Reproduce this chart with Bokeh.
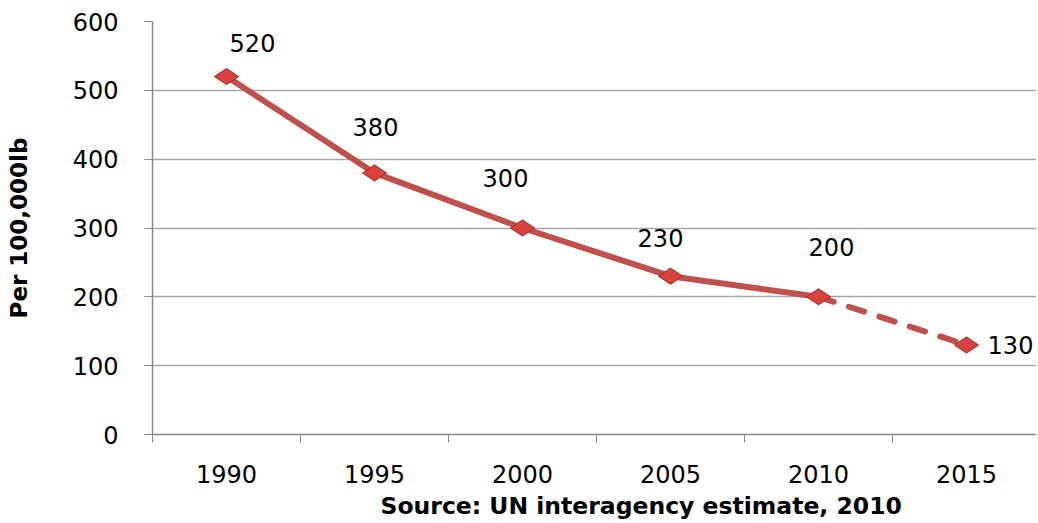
from bokeh.plotting import figure
from bokeh.models import Range1d, FixedTicker, Title, ColumnDataSource
from bokeh.core.properties import value
from bokeh.embed import file_html
from bokeh.resources import INLINE

years = [1990, 1995, 2000, 2005, 2010, 2015]
values = [520, 380, 300, 230, 200, 130]
value_labels = ["520", "380", "300", "230", "200", "130"]
n_observed = 5  # 1990-2010 observed, 2010-2015 projected (dashed)
y_ticks = [0, 100, 200, 300, 400, 500, 600]
y_title = "Per 100,000lb"
source_text = "Source: UN interagency estimate, 2010"

# label placement (screen pixel offsets), styling only
label_dx = [26, 1, -17, -10, 13, 44]
label_dy = [-34, -46, -50, -38, -50, 0]

W, H = 1036, 523
LEFT, TOP = 152, 21
FRAME_H = 414
BOTTOM = H - TOP - FRAME_H
frame_w = W - LEFT
px_per_year = 148 / 5

p = figure(width=W, height=H, output_backend="svg", toolbar_location=None,
           min_border_left=LEFT, min_border_right=0, min_border_top=TOP,
           min_border_bottom=BOTTOM,
           x_range=Range1d(years[0] - 2.5, years[0] - 2.5 + frame_w / px_per_year),
           y_range=Range1d(0, 600))
p.outline_line_color = None
p.background_fill_color = "white"
p.border_fill_color = "white"

# x axis
xa = p.xaxis[0]
xa.ticker = FixedTicker(ticks=years, minor_ticks=[y - 2.5 for y in years] + [years[-1] + 2.5])
xa.major_tick_line_color = None
xa.major_tick_out = 0
xa.major_tick_in = 0
xa.minor_tick_out = 8
xa.minor_tick_in = 0
xa.minor_tick_line_color = "#868686"
xa.axis_line_color = "#868686"
xa.axis_line_width = 1.5
xa.major_label_text_font = "DejaVu Sans"
xa.major_label_text_font_size = "24px"
xa.major_label_text_color = "black"
xa.major_label_standoff = 22

# y axis
ya = p.yaxis[0]
ya.ticker = FixedTicker(ticks=y_ticks)
ya.minor_tick_line_color = None
ya.major_tick_out = 8
ya.major_tick_in = 0
ya.major_tick_line_color = "#868686"
ya.axis_line_color = "#868686"
ya.axis_line_width = 1.5
ya.major_label_text_font = "DejaVu Sans"
ya.major_label_text_font_size = "24px"
ya.major_label_text_color = "black"
ya.major_label_standoff = 26
ya.axis_label = y_title
ya.axis_label_text_font = "DejaVu Sans"
ya.axis_label_text_font_size = "23px"
ya.axis_label_text_font_style = "bold"
ya.axis_label_text_color = "black"
ya.axis_label_standoff = 38

p.xgrid.grid_line_color = None
p.ygrid.grid_line_color = "#a6a6a6"
p.ygrid.grid_line_width = 1.5

# lines
p.line(years[:n_observed], values[:n_observed], line_color="#C0504D", line_width=6,
       line_cap="round", line_join="round")
p.line(years[n_observed - 1:], values[n_observed - 1:], line_color="#C0504D", line_width=6,
       line_dash="16 16", line_cap="round")

# markers (soft shadow + diamond)
p.scatter(years, values, marker="diamond", size=27, angle=1.5708,
          fill_color="#7f7f7f", fill_alpha=0.25, line_color=None)
p.scatter(years, values, marker="diamond", size=24, angle=1.5708,
          fill_color="#D9423D", line_color="#9B2D2A", line_width=1)

src = ColumnDataSource(dict(x=years, y=values, t=value_labels, dx=label_dx, dy=label_dy))
p.text(x="x", y="y", text="t", x_offset="dx", y_offset="dy", source=src,
       text_font=value("DejaVu Sans"), text_font_size="24px", text_color="black",
       text_align="center", text_baseline="middle")

p.add_layout(Title(text=source_text, align="left", offset=228,
                   text_font="DejaVu Sans", text_font_size="23.5px",
                   text_font_style="bold", text_color="black", standoff=8), "below")

open("out.html", "w").write(file_html(p, INLINE))
